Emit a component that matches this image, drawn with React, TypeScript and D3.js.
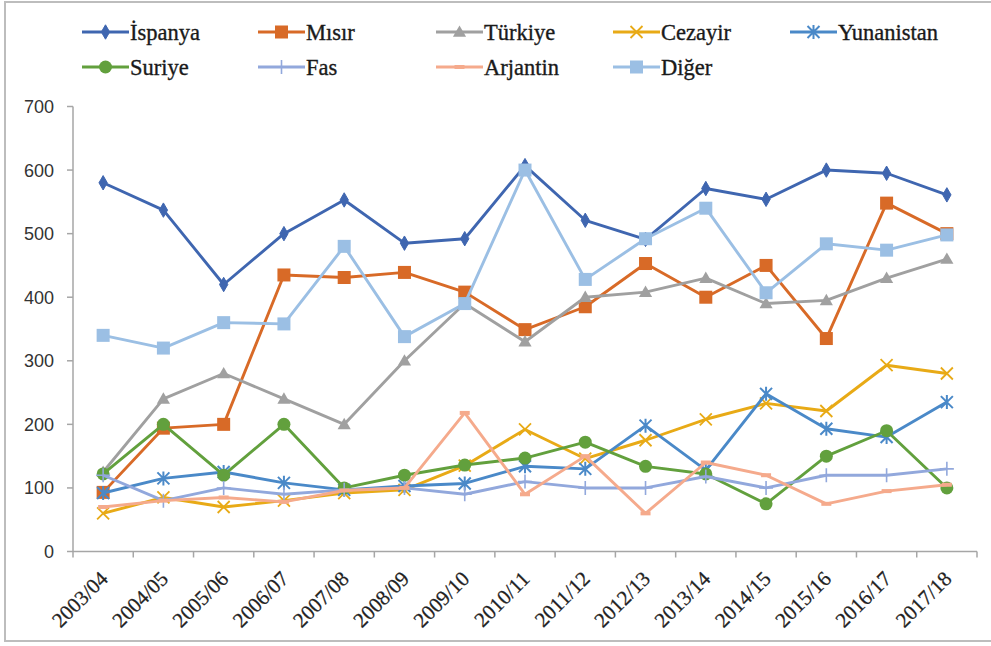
import React from 'react';
import * as d3 from 'd3';

const categories = ['2003/04','2004/05','2005/06','2006/07','2007/08','2008/09','2009/10','2010/11','2011/12','2012/13','2013/14','2014/15','2015/16','2016/17','2017/18'];
const ispanya = [580,537,420,500,553,485,492,607,521,491,571,554,600,595,561];
const misir = [93,194,200,435,431,439,408,349,385,453,400,450,335,548,500];
const turkiye = [125,240,280,240,200,300,390,330,400,408,430,390,395,430,460];
const cezayir = [60,85,70,80,92,97,135,192,146,175,208,233,221,293,280];
const yunanistan = [92,115,125,108,97,103,107,134,130,198,128,248,193,180,235];
const suriye = [122,200,120,200,100,120,136,147,172,134,122,75,150,190,100];
const fas = [120,80,100,90,97,100,90,110,100,100,118,100,120,120,130];
const arjantin = [70,80,85,78,96,100,218,90,150,60,140,120,75,95,105];
const diger = [340,320,360,358,480,338,390,600,428,492,540,407,484,474,498];
const yTicks = [0,100,200,300,400,500,600,700];

type Marker = 'diamond'|'square'|'triangle'|'x'|'asterisk'|'circle'|'plus'|'dash';
const seriesNames = ['İspanya','Mısır','Türkiye','Cezayir','Yunanistan','Suriye','Fas','Arjantin','Diğer'];
const seriesValues = [ispanya, misir, turkiye, cezayir, yunanistan, suriye, fas, arjantin, diger];
const seriesColors = ['#3F66B0','#D86A27','#A0A0A0','#E8AA16','#4A89C8','#62A03D','#92A8DC','#F5AA8C','#9BBFE4'];
const seriesMarkers: Marker[] = ['diamond','square','triangle','x','asterisk','circle','plus','dash','square'];

function MarkerShape({ type, x, y, color }: { type: Marker; x: number; y: number; color: string }) {
  switch (type) {
    case 'diamond': {
      const p = d3.symbol().type(d3.symbolDiamond).size(60)();
      return <path d={p as string} transform={`translate(${x},${y})`} fill={color} stroke={color} strokeWidth={1} />;
    }
    case 'square':
      return <rect x={x - 6.5} y={y - 6.5} width={13} height={13} fill={color} />;
    case 'triangle': {
      const p = d3.symbol().type(d3.symbolTriangle).size(75)();
      return <path d={p as string} transform={`translate(${x},${y + 1})`} fill={color} />;
    }
    case 'circle':
      return <circle cx={x} cy={y} r={6.5} fill={color} />;
    case 'x':
      return <path d={`M${x - 6},${y - 6}L${x + 6},${y + 6}M${x - 6},${y + 6}L${x + 6},${y - 6}`} stroke={color} strokeWidth={1.8} fill="none" />;
    case 'asterisk':
      return <path d={`M${x - 6},${y - 6}L${x + 6},${y + 6}M${x - 6},${y + 6}L${x + 6},${y - 6}M${x},${y - 7}L${x},${y + 7}`} stroke={color} strokeWidth={2} fill="none" />;
    case 'plus':
      return <path d={`M${x - 7},${y}L${x + 7},${y}M${x},${y - 7}L${x},${y + 7}`} stroke={color} strokeWidth={1.6} fill="none" />;
    case 'dash':
      return <rect x={x - 5} y={y - 2} width={10} height={4} fill={color} />;
  }
  return null;
}

export default function App() {
  const W = 991, H = 646;
  const left = 73, right = 977, top = 106.5, bottom = 551.5;
  const band = d3.scaleBand<string>().domain(categories).range([left, right]).padding(0);
  const x = (c: string) => (band(c) as number) + band.bandwidth() / 2;
  const y = d3.scaleLinear().domain([0, 700]).range([bottom, top]);
  const line = d3.line<number>().x((_, i) => x(categories[i])).y(d => y(d));

  const axisColor = '#A6A6A6';
  const legendCols = [82, 258, 436, 613, 790];
  const legendRows = [32, 67];
  const legendItems = seriesNames.map((name, i) => {
    const row = i < 5 ? 0 : 1;
    const col = i < 5 ? i : i - 5;
    return { name, i, lx: legendCols[col], ly: legendRows[row] };
  });

  return (
    <svg width={W} height={H} style={{ position: 'absolute', left: 0, top: 0, background: '#fff' }}>
      <rect x={5} y={2} width={1000} height={639} fill="#fff" stroke="#BDBDBD" strokeWidth={2} />
      {/* y axis */}
      <line x1={left} x2={left} y1={top} y2={bottom} stroke={axisColor} strokeWidth={1.5} />
      {yTicks.map(t => (
        <g key={t}>
          <line x1={left - 6} x2={left} y1={y(t)} y2={y(t)} stroke={axisColor} strokeWidth={1.5} />
          <text x={54} y={y(t)} dy="0.36em" textAnchor="end" fontFamily="'Liberation Sans', Arial, sans-serif" fontSize={18} fill="#333">{t}</text>
        </g>
      ))}
      {/* x axis */}
      <line x1={left} x2={right} y1={bottom} y2={bottom} stroke={axisColor} strokeWidth={1.5} />
      {categories.map(c => (
        <line key={'t' + c} x1={band(c) as number} x2={band(c) as number} y1={bottom} y2={bottom + 6} stroke={axisColor} strokeWidth={1.5} />
      ))}
      <line x1={right} x2={right} y1={bottom} y2={bottom + 6} stroke={axisColor} strokeWidth={1.5} />
      {categories.map(c => (
        <text key={'l' + c} x={x(c) + 6} y={580} textAnchor="end" transform={`rotate(-45 ${x(c) + 6} 580)`} fontFamily="'Liberation Serif', 'Times New Roman', serif" fontSize={21} fill="#222" stroke="#222" strokeWidth={0.25}>{c}</text>
      ))}
      {/* series */}
      {seriesValues.map((vals, si) => (
        <g key={'s' + si}>
          <path d={line(vals) as string} fill="none" stroke={seriesColors[si]} strokeWidth={2.9} strokeLinejoin="round" />
          {vals.map((v, i) => (
            <MarkerShape key={i} type={seriesMarkers[si]} x={x(categories[i])} y={y(v)} color={seriesColors[si]} />
          ))}
        </g>
      ))}
      {/* legend */}
      {legendItems.map(it => (
        <g key={'lg' + it.i}>
          <line x1={it.lx} x2={it.lx + 47} y1={it.ly} y2={it.ly} stroke={seriesColors[it.i]} strokeWidth={2.9} />
          <MarkerShape type={seriesMarkers[it.i]} x={it.lx + 23.5} y={it.ly} color={seriesColors[it.i]} />
          <text x={it.lx + 48} y={it.ly + 8} fontFamily="'Liberation Serif', 'Times New Roman', serif" fontSize={22.5} fill="#1a1a1a" stroke="#1a1a1a" strokeWidth={0.35}>{it.name}</text>
        </g>
      ))}
    </svg>
  );
}
